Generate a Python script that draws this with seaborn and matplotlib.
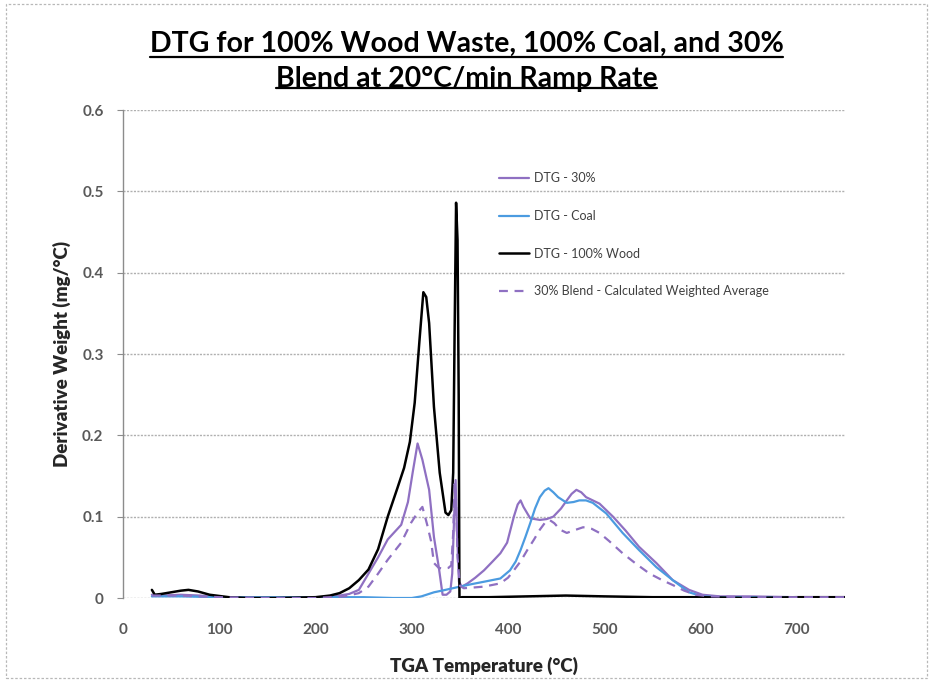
import matplotlib
matplotlib.use("Agg")
import matplotlib.pyplot as plt
import seaborn as sns
import pandas as pd
from matplotlib.patches import Rectangle
from matplotlib.lines import Line2D

# ---------------- data ----------------
wood_t = [30, 33, 40, 50, 60, 68, 78, 90, 110, 130, 160, 200, 215, 225, 235, 245, 255, 265, 275, 285,
          292, 298, 303, 308, 312, 315, 318, 323, 329, 335, 338, 341, 343, 344.5, 346, 347.5, 348.7, 349.5,
          352, 380, 420, 460, 500, 550, 600, 650, 700, 750]
wood_y = [0.010, 0.004, 0.005, 0.007, 0.009, 0.010, 0.008, 0.004, 0.001, 0.0, 0.0, 0.001, 0.003, 0.006,
          0.012, 0.022, 0.035, 0.060, 0.100, 0.135, 0.160, 0.192, 0.240, 0.317, 0.376, 0.370, 0.338, 0.235,
          0.154, 0.105, 0.102, 0.108, 0.154, 0.330, 0.486, 0.440, 0.250, 0.0,
          0.001, 0.001, 0.002, 0.003, 0.002, 0.001, 0.001, 0.0, 0.001, 0.001]

blend_t = [30, 40, 60, 80, 100, 150, 200, 220, 235, 245, 255, 265, 275, 289, 296, 301, 306, 311, 318,
           323, 328, 332, 336, 340, 342, 344, 345.5, 347, 349, 352, 358, 366, 375, 384, 392, 399, 406,
           410, 413, 416, 423, 433, 440, 447, 455, 461, 466, 471, 476, 481, 495, 509, 522, 536, 554,
           571, 588, 602, 620, 650, 700, 750]
blend_y = [0.004, 0.003, 0.004, 0.003, 0.001, 0.0, 0.0, 0.002, 0.005, 0.010, 0.030, 0.050, 0.072, 0.090,
           0.118, 0.155, 0.190, 0.170, 0.133, 0.075, 0.038, 0.004, 0.004, 0.008, 0.030, 0.100, 0.145,
           0.080, 0.020, 0.014, 0.018, 0.025, 0.034, 0.045, 0.055, 0.068, 0.100, 0.115, 0.120, 0.112,
           0.098, 0.096, 0.097, 0.100, 0.110, 0.120, 0.128, 0.133, 0.130, 0.124, 0.116, 0.100, 0.083,
           0.063, 0.043, 0.022, 0.010, 0.004, 0.002, 0.002, 0.001, 0.001]

coal_t = [30, 60, 100, 150, 200, 250, 280, 300, 310, 323, 335, 350, 362, 375, 392, 402, 408, 413, 418,
          423, 428, 433, 438, 442, 447, 452, 461, 468, 474, 481, 488, 502, 519, 536, 554, 571, 588, 602,
          620, 650, 700, 750]
coal_y = [0.002, 0.002, 0.001, 0.001, 0.001, 0.001, 0.0, 0.0, 0.002, 0.007, 0.010, 0.014, 0.017, 0.020,
          0.024, 0.034, 0.045, 0.059, 0.075, 0.092, 0.110, 0.124, 0.132, 0.135, 0.130, 0.124, 0.117,
          0.118, 0.120, 0.120, 0.117, 0.104, 0.080, 0.059, 0.038, 0.022, 0.007, 0.002, 0.001, 0.001,
          0.001, 0.001]

avg_t = [30, 60, 100, 150, 200, 230, 245, 255, 265, 275, 289, 299, 306, 311, 316, 320, 323, 328, 333,
         338, 341, 343, 344.5, 346, 347.5, 350, 354, 365, 375, 392, 400, 406, 413, 420, 427, 433, 438,
         443, 448, 454, 461, 468, 478, 487, 495, 505, 519, 533, 547, 560, 571, 583, 595, 610, 650, 700, 750]
avg_y = [0.003, 0.003, 0.001, 0.0, 0.0, 0.002, 0.006, 0.014, 0.030, 0.047, 0.068, 0.092, 0.105, 0.112,
         0.090, 0.070, 0.043, 0.037, 0.036, 0.037, 0.040, 0.080, 0.140, 0.120, 0.050, 0.015, 0.012,
         0.013, 0.014, 0.018, 0.025, 0.034, 0.045, 0.059, 0.072, 0.084, 0.092, 0.096, 0.092, 0.084,
         0.080, 0.083, 0.087, 0.085, 0.080, 0.070, 0.055, 0.042, 0.030, 0.022, 0.016, 0.009, 0.004,
         0.002, 0.001, 0.001, 0.001]

x_ticks = [0, 100, 200, 300, 400, 500, 600, 700]
y_ticks = [0, 0.1, 0.2, 0.3, 0.4, 0.5, 0.6]
y_tick_labels = ["0", "0.1", "0.2", "0.3", "0.4", "0.5", "0.6"]

labels = ["DTG - 30%", "DTG - Coal", "DTG - 100% Wood", "30% Blend - Calculated Weighted Average"]
title = "DTG for 100% Wood Waste, 100% Coal, and 30%\nBlend at 20\u00b0C/min Ramp Rate"

# ---------------- style ----------------
sns.set_style("white")
plt.rcParams["font.family"] = ["Lato", "DejaVu Sans"]

fig = plt.figure(figsize=(9.33, 6.81), dpi=100)
ax = fig.add_axes([123 / 933, 83 / 681, 722 / 933, 488 / 681])

purple = "#8f70c2"
blue = "#4b9be0"

sns.lineplot(x=blend_t, y=blend_y, ax=ax, color=purple, lw=1.6, sort=False, estimator=None, label=labels[0])
sns.lineplot(x=coal_t, y=coal_y, ax=ax, color=blue, lw=1.6, sort=False, estimator=None, label=labels[1])
sns.lineplot(x=wood_t, y=wood_y, ax=ax, color="black", lw=1.8, sort=False, estimator=None, label=labels[2])
sns.lineplot(x=avg_t, y=avg_y, ax=ax, color=purple, lw=1.6, sort=False, estimator=None, label=labels[3])
ax.lines[3].set_linestyle((0, (4, 3)))

ax.set_xlim(0, 750)
ax.set_ylim(0, 0.6)
ax.set_xticks(x_ticks)
ax.set_yticks(y_ticks)
ax.set_yticklabels(y_tick_labels)
ax.grid(axis="y", color="#b0b0b0", linestyle=(0, (1.5, 1)), lw=1.0)
ax.grid(axis="x", visible=False)
ax.set_axisbelow(True)
for s in ["top", "right", "bottom"]:
    ax.spines[s].set_visible(False)
ax.spines["left"].set_color("#8c8c8c")
ax.spines["left"].set_linewidth(1.0)
ax.tick_params(axis="y", which="major", left=True, length=4, color="#8c8c8c", pad=10,
               labelsize=11, labelcolor="#595959")
ax.tick_params(axis="x", which="major", bottom=False, length=0, pad=18, labelsize=11, labelcolor="#595959")
for t in ax.get_xticklabels() + ax.get_yticklabels():
    t.set_fontweight("bold")

ax.set_xlabel("TGA Temperature (\u00b0C)", fontsize=13.5, fontweight="heavy", labelpad=14)
ax.set_ylabel("Derivative Weight (mg/\u00b0C)", fontsize=13.5, fontweight="heavy", labelpad=8)

leg = ax.legend(loc="upper left", bbox_to_anchor=(0.505, 0.895), frameon=False, fontsize=9,
                labelspacing=2.05, handlelength=2.4, handletextpad=0.4)
for t in leg.get_texts():
    t.set_color("#404040")

# title with underline
ttl = fig.text(0.5, 0.955, title, ha="center", va="top", fontsize=20.5, fontweight="bold",
               linespacing=1.45, color="black")

# figure border
fig.patches.append(Rectangle((0.006, 0.004), 0.988, 0.99, transform=fig.transFigure, fill=False,
                             edgecolor="#b8b8b8", lw=0.9, linestyle=(0, (2, 1.5))))

fig.canvas.draw()
renderer = fig.canvas.get_renderer()
lines_txt = title.split("\n")
for i, line in enumerate(lines_txt):
    tmp = fig.text(0, 0, line, fontsize=20.5, fontweight="bold")
    w = tmp.get_window_extent(renderer).width
    tmp.remove()
    bb = ttl.get_window_extent(renderer)
    line_h = bb.height / len(lines_txt)
    ybase = bb.y1 - line_h * (i + 1) + line_h * 0.13
    x0 = (bb.x0 + bb.x1) / 2 - w / 2
    x1 = (bb.x0 + bb.x1) / 2 + w / 2
    fig.add_artist(Line2D([x0 / fig.bbox.width, x1 / fig.bbox.width],
                          [ybase / fig.bbox.height, ybase / fig.bbox.height],
                          transform=fig.transFigure, color="black", lw=1.6))

fig.savefig("out.png", dpi=100)
